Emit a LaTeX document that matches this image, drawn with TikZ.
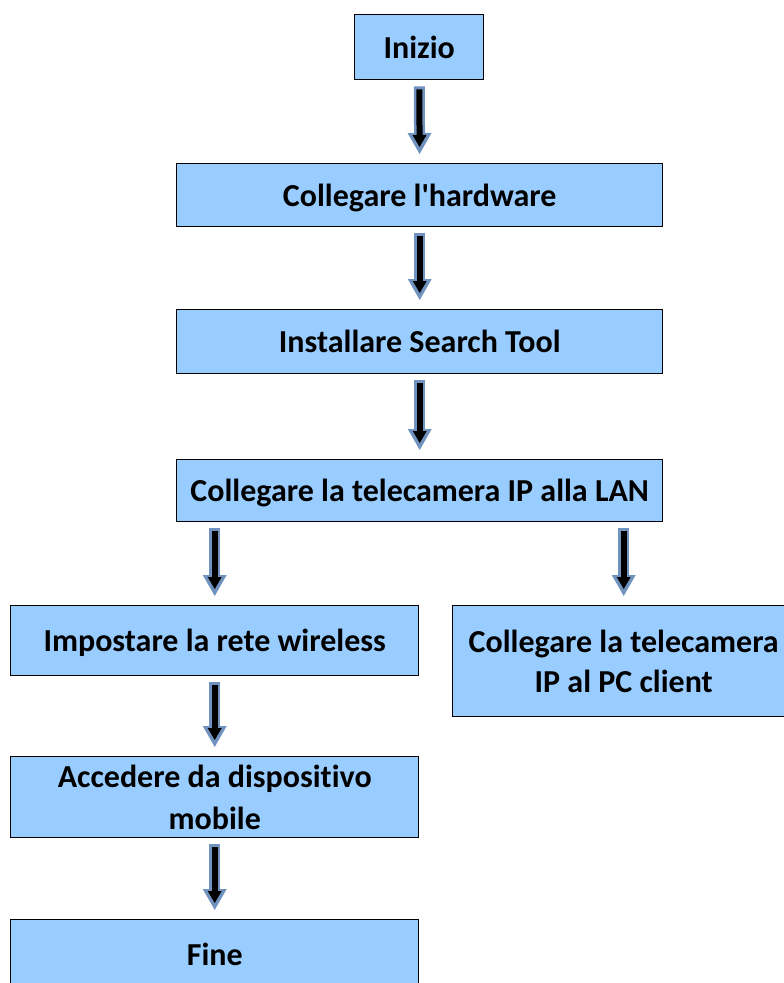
\documentclass[tikz,border=0pt]{standalone}
\usepackage{fontspec}
\setmainfont{Carlito}[Ligatures={NoCommon}]
\usetikzlibrary{arrows.meta}

\definecolor{boxblue}{RGB}{153,204,255}
\definecolor{arrowblue}{RGB}{112,146,190}

\begin{document}
\begin{tikzpicture}[x=0.75pt,y=0.75pt,yscale=-1,xscale=1,
  stepbox/.style={draw=black,line width=1.1pt,fill=boxblue,anchor=north west,inner sep=0pt,
    text depth=0pt,align=center,font=\fontsize{24}{30}\selectfont\bfseries},
  flow/.style={draw=black,line width=4.5pt,-{Triangle[length=9pt,width=10.5pt,line width=0pt]},
    shorten <=6.75pt,shorten >=12pt,
    preaction={draw=arrowblue,line width=8.25pt,-{Triangle[length=15.75pt,width=18pt,line width=0pt]},
      shorten <=4.5pt,shorten >=6.75pt}}]
\clip (0,0) rectangle (784,983);

%Shape: Rectangle [Inizio]
\node[stepbox,minimum width=96.75pt,minimum height=48.75pt] (start) at (354,14) {Inizio};
%Shape: Rectangle [hardware]
\node[stepbox,minimum width=364.5pt,minimum height=47.25pt] (hardware) at (176,163) {Collegare l\textquotesingle hardware};
%Shape: Rectangle [search tool]
\node[stepbox,minimum width=364.5pt,minimum height=48pt] (tool) at (176,309) {Installare Search Tool};
%Shape: Rectangle [LAN]
\node[stepbox,minimum width=364.5pt,minimum height=46.5pt] (lan) at (176,459) {Collegare la telecamera IP alla LAN};
%Shape: Rectangle [wireless]
\node[stepbox,minimum width=306pt,minimum height=52.5pt] (wireless) at (10,605) {Impostare la rete wireless};
%Shape: Rectangle [PC client]
\node[stepbox,minimum width=256.5pt,minimum height=83.25pt] (client) at (452,605) {Collegare la telecamera\\IP al PC client};
%Shape: Rectangle [mobile]
\node[stepbox,minimum width=306pt,minimum height=60.75pt,text depth=-25.25pt,
  font=\fontsize{24}{32}\selectfont\bfseries] (mobile) at (10,756) {Accedere da dispositivo\\mobile};
%Shape: Rectangle [Fine]
\node[stepbox,minimum width=306pt,minimum height=52.5pt] (finish) at (10,919) {Fine};

%Down Arrows
\draw[flow] (start) -- (hardware);
\draw[flow] (hardware) -- (tool);
\draw[flow] (tool) -- (lan);
\draw[flow] (wireless.north |- lan.south) -- (wireless.north);
\draw[flow] (client.north |- lan.south) -- (client.north);
\draw[flow] (wireless) -- (mobile);
\draw[flow] (mobile) -- (finish);

\end{tikzpicture}
\end{document}
